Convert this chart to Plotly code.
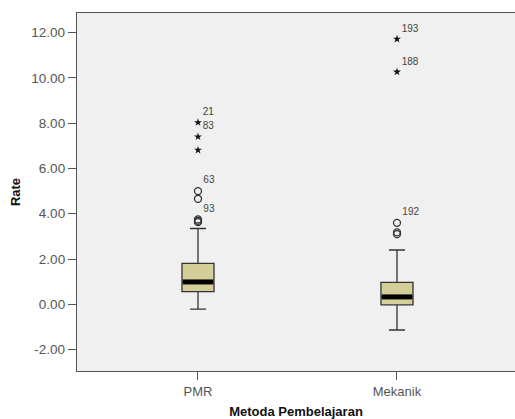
import plotly.graph_objects as go

categories = ["PMR", "Mekanik"]
q1 = [0.56, -0.02]
median = [0.99, 0.33]
q3 = [1.81, 0.97]
lower_whisker = [-0.21, -1.13]
upper_whisker = [3.35, 2.40]

# outliers: (category index, value, label)
circle_cat = [0, 0, 0, 0, 0, 1, 1, 1]
circle_val = [5.00, 4.66, 3.75, 3.69, 3.63, 3.60, 3.18, 3.10]
circle_lbl = ["63", "", "93", "", "", "192", "", ""]

star_cat = [0, 0, 0, 1, 1]
star_val = [8.03, 7.40, 6.81, 11.71, 10.26]
star_lbl = ["21", "83", "", "193", "188"]

y_ticks = [-2, 0, 2, 4, 6, 8, 10, 12]
box_width = 0.161
font = "Arial, Liberation Sans, sans-serif"

fig = go.Figure()
for i, c in enumerate(categories):
    fig.add_trace(go.Box(
        x=[i], q1=[q1[i]], median=[median[i]], q3=[q3[i]],
        lowerfence=[lower_whisker[i]], upperfence=[upper_whisker[i]],
        width=box_width, whiskerwidth=0.5,
        fillcolor="#D4CF98", line=dict(color="#333333", width=1.3),
        boxpoints=False, showlegend=False, hoverinfo="skip",
    ))
    fig.add_trace(go.Scatter(
        x=[i - box_width / 2 + 0.004, i + box_width / 2 - 0.004],
        y=[median[i], median[i]], mode="lines",
        line=dict(color="black", width=5), showlegend=False, hoverinfo="skip",
    ))

fig.add_trace(go.Scatter(
    x=circle_cat, y=circle_val, mode="markers+text", text=circle_lbl,
    textposition="top right",
    textfont=dict(family=font, size=10, color="#444444"),
    marker=dict(symbol="circle-open", size=7, color="#333333", line=dict(width=1.3)),
    showlegend=False, hoverinfo="skip",
))
fig.add_trace(go.Scatter(
    x=star_cat, y=star_val, mode="markers+text", text=star_lbl,
    textposition="top right",
    textfont=dict(family=font, size=10, color="#444444"),
    marker=dict(symbol="star", size=6, color="#111111"),
    showlegend=False, hoverinfo="skip",
))

fig.update_layout(
    width=515, height=419,
    margin=dict(l=77, r=0, t=13, b=48),
    paper_bgcolor="white", plot_bgcolor="#F0F0F0",
    font=dict(family=font, size=13, color="#555555"),
    xaxis=dict(
        range=[-0.608, 1.593], tickvals=[0, 1], ticktext=categories,
        showgrid=False, zeroline=False, showline=True, linecolor="#555555",
        linewidth=1.3, mirror=True, ticks="outside", ticklen=8, tickcolor="#555555",
        title=dict(text="<b>Metoda Pembelajaran</b>",
                   font=dict(family=font, size=13, color="#111111"), standoff=9),
    ),
    yaxis=dict(
        range=[-2.94, 12.86], tickvals=y_ticks,
        ticktext=[f"{v:.2f}" for v in y_ticks],
        tickfont=dict(size=13.5),
        showgrid=False, zeroline=False, showline=True, linecolor="#555555",
        linewidth=1.3, ticks="outside", ticklen=8, tickcolor="#555555",
        title=dict(text="<b>Rate</b>",
                   font=dict(family=font, size=13, color="#111111"), standoff=7),
    ),
)

fig.write_html("out.html")
